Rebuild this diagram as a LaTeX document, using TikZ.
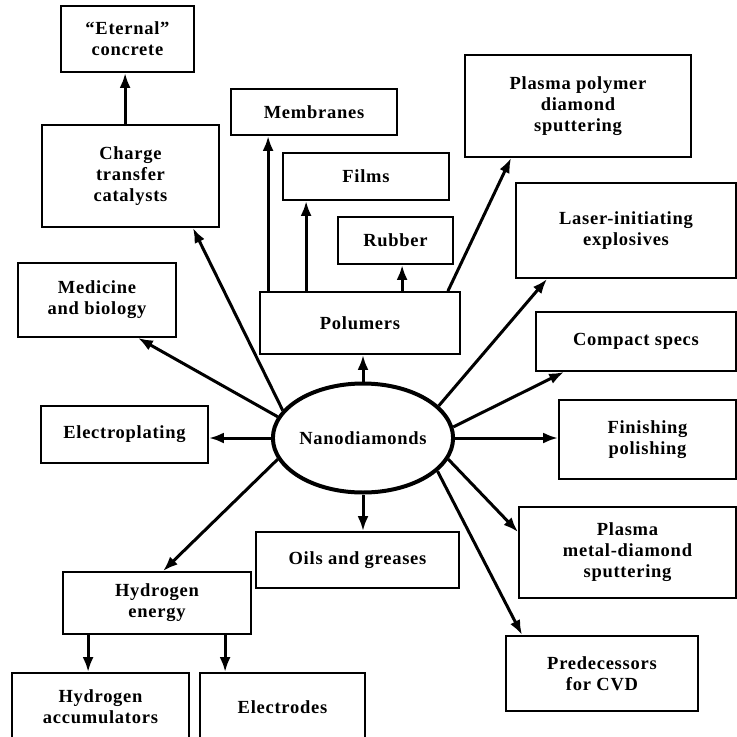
\documentclass[tikz,border=0pt]{standalone}
\usepackage{fontspec}
\setmainfont{Liberation Serif}[LetterSpace=4]
\usetikzlibrary{arrows.meta,shapes.geometric}
\tikzset{
  box/.style={draw,line width=1.8pt,inner sep=0pt,align=center,
    font=\bfseries\fontsize{18.5}{21}\selectfont},
  arr/.style={line width=3pt,-{Latex[length=15pt,width=11pt]}}
}
\begin{document}
\begin{tikzpicture}[x=1pt,y=-1pt]
\clip (0,0) rectangle (737,737);
\fill[white] (0,0) rectangle (737,737);
% nodes
\node[box,minimum width=133pt,minimum height=66pt] (et) at (127.5,39) {``Eternal''\\concrete};
\node[box,minimum width=177pt,minimum height=102pt] (charge) at (130.5,176) {Charge\\transfer\\catalysts};
\node[box,minimum width=166pt,minimum height=46pt] (mem) at (314,112) {Membranes};
\node[box,minimum width=166pt,minimum height=47pt] (films) at (366,176.5) {Films};
\node[box,minimum width=115pt,minimum height=47pt] (rub) at (395.5,240.5) {Rubber};
\node[box,minimum width=226pt,minimum height=102pt] (pp) at (578,106) {Plasma polymer\\diamond\\sputtering};
\node[box,minimum width=220pt,minimum height=95pt] (las) at (626,230.5) {Laser-initiating\\explosives};
\node[box,minimum width=158pt,minimum height=74pt] (med) at (97,300) {Medicine\\and biology};
\node[box,minimum width=200pt,minimum height=62pt] (pol) at (360,323) {Polumers};
\node[box,minimum width=200pt,minimum height=59pt] (cmp) at (636,341.5) {Compact specs};
\node[box,minimum width=167pt,minimum height=57pt] (ep) at (124.5,434.5) {Electroplating};
\node[box,ellipse,line width=4pt,minimum width=170pt,minimum height=109pt] (nd) at (363,438) {Nanodiamonds};
\node[box,minimum width=177pt,minimum height=79pt] (fin) at (647.5,439.5) {Finishing\\polishing};
\node[box,minimum width=217pt,minimum height=91pt] (pm) at (627.5,552.5) {Plasma\\metal-diamond\\sputtering};
\node[box,minimum width=203pt,minimum height=56pt] (oil) at (357.5,560) {Oils and greases};
\node[box,minimum width=188pt,minimum height=62pt] (he) at (157,603) {Hydrogen\\energy};
\node[box,minimum width=192pt,minimum height=75pt] (pred) at (602,673.5) {Predecessors\\for CVD};
\node[box,minimum width=177pt,minimum height=68pt] (acc) at (100.5,707) {Hydrogen\\accumulators};
\node[box,minimum width=165pt,minimum height=68pt] (ele) at (282.5,707) {Electrodes};
% connectors from nanodiamonds
\draw[arr] (nd.161) -- ([xshift=-27pt]charge.south east);
\draw[arr] (nd.166) -- ([xshift=-39pt]med.south east);
\draw[arr] (nd.west) -- (nd.west -| ep.east);
\draw[arr] (nd.194) -- ([xshift=6pt]he.north);
\draw[arr] (nd.north) -- (nd.north |- pol.south);
\draw[arr] (nd.south) -- (nd.south |- oil.north);
\draw[arr] (nd.23) -- ([xshift=32pt]las.south west);
\draw[arr] (nd.7.5) -- ([xshift=29pt]cmp.south west);
\draw[arr] (nd.east) -- (nd.east -| fin.west);
\draw[arr] (nd.-14) -- ([yshift=-26pt]pm.north west);
\draw[arr] (nd.-24.6) -- ([xshift=17pt]pred.north west);
% from polumers
\draw[arr] ([xshift=9pt]pol.north west) -- ([xshift=9pt]pol.north west |- mem.south);
\draw[arr] ([xshift=47pt]pol.north west) -- ([xshift=47pt]pol.north west |- films.south);
\draw[arr] ([xshift=143pt]pol.north west) -- ([xshift=143pt]pol.north west |- rub.south);
\draw[arr] ([xshift=-13pt]pol.north east) -- ([xshift=47pt]pp.south west);
% from charge transfer catalysts
\draw[arr] ([xshift=84pt]charge.north west) -- ([xshift=84pt]charge.north west |- et.south);
% from hydrogen energy
\draw[arr] ([xshift=26pt]he.south west) -- ([xshift=26pt]he.south west |- acc.north);
\draw[arr] ([xshift=163pt]he.south west) -- ([xshift=163pt]he.south west |- ele.north);
\end{tikzpicture}
\end{document}
